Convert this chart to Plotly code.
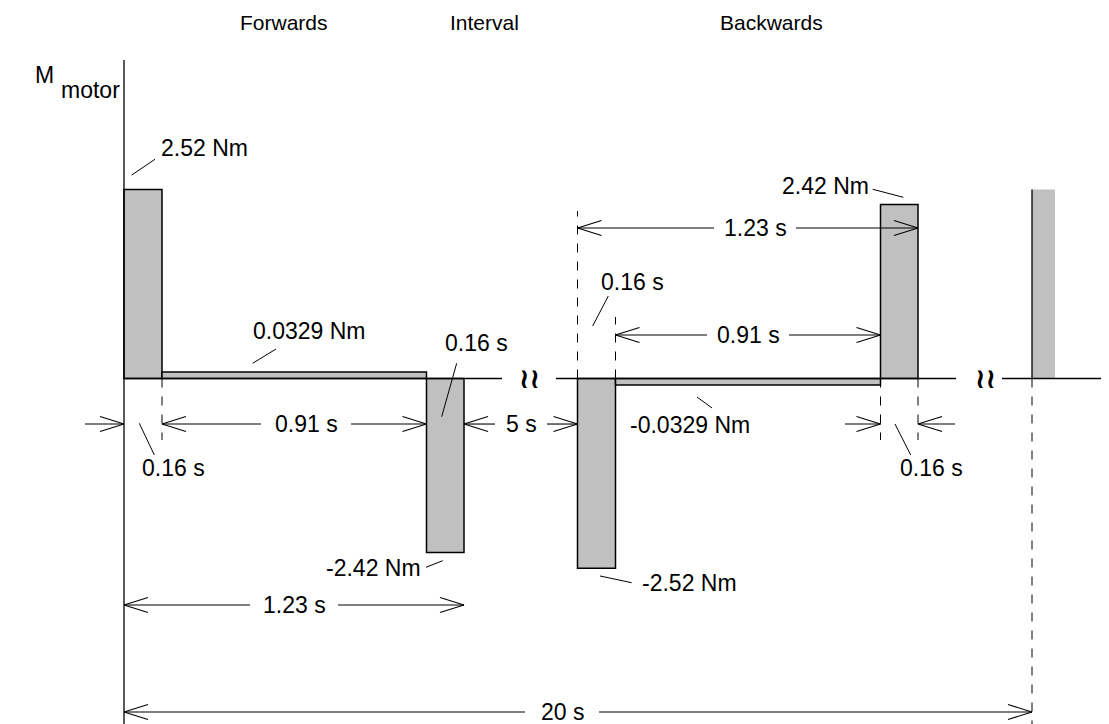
import plotly.graph_objects as go

# drawing units: x is the schematic time axis (not to scale), y is torque in Nm
phase_names = ["Forwards", "Interval", "Backwards"]

seg_start = [0, 38, 302.5, 453.5, 491.5, 756.5, 908]
seg_end = [38, 302.5, 340, 491.5, 756.5, 794, 931]
seg_height = [2.52, 0.087, -2.32, -2.53, -0.087, 2.32, 2.52]
seg_outlined = [True, True, True, True, True, True, False]

torque_labels = ["2.52 Nm", "0.0329 Nm", "-2.42 Nm", "-2.52 Nm", "-0.0329 Nm", "2.42 Nm"]
duration_labels = ["0.16 s", "0.91 s", "5 s", "1.23 s", "20 s"]

FONT = "Liberation Sans, Arial, sans-serif"
NARROW = "Liberation Sans Narrow, Arial Narrow, Liberation Sans, sans-serif"
BLACK = "#000000"
GREY = "#c0c0c0"
# the page has an 8 px body margin, so the figure is 8 px smaller and shifted
W, H = 1101, 716
X_LEFT = -116
X_RIGHT = X_LEFT + W
Y_TOP = (378.5 - 8) / 75
Y_BOTTOM = Y_TOP - H / 75
HEAD_LEN, HEAD_HALF = 24, 0.1

fig = go.Figure()

# torque blocks
for outlined in (True, False):
    idx = [i for i, o in enumerate(seg_outlined) if o == outlined]
    fig.add_bar(
        x=[(seg_start[i] + seg_end[i]) / 2 for i in idx],
        y=[seg_height[i] for i in idx],
        width=[seg_end[i] - seg_start[i] for i in idx],
        base=0,
        marker=dict(color=GREY, line=dict(color=BLACK, width=1.5 if outlined else 0)),
        hoverinfo="skip",
    )


def add_lines(segments, width=1.3, dash="solid"):
    xs, ys = [], []
    for x0, y0, x1, y1 in segments:
        xs += [x0, x1, None]
        ys += [y0, y1, None]
    fig.add_scatter(
        x=xs, y=ys, mode="lines", line=dict(color=BLACK, width=width, dash=dash),
        hoverinfo="skip",
    )


def head(x, y, direction):
    # open arrowhead, tip at (x, y), pointing +1 right / -1 left
    back = x - direction * HEAD_LEN
    return [(back, y + HEAD_HALF, x, y), (x, y, back, y - HEAD_HALF)]


# axes with breaks
add_lines(
    [
        (0, 4.247, 0, Y_BOTTOM),
        (0, 0, 378, 0),
        (432, 0, 832, 0),
        (878, 0, X_RIGHT, 0),
        (seg_start[6], 0, seg_start[6], seg_height[6]),
    ],
    width=1.3,
)

# dashed extension lines
add_lines(
    [
        (seg_end[0], 0, seg_end[0], -0.82),
        (seg_start[3], 0, seg_start[3], 2.233),
        (seg_start[4], 0, seg_start[4], 0.82),
        (seg_start[5], 0, seg_start[5], -0.82),
        (seg_end[5], 0, seg_end[5], -0.82),
        (seg_start[6], 0, seg_start[6], Y_BOTTOM),
    ],
    width=1,
    dash="dash",
)

# dimension lines: (x0, x1, y, label, label centre, half gap)
dims = [
    (seg_end[0], seg_start[2], -0.607, duration_labels[1], 182, 45),
    (seg_end[2], seg_start[3], -0.607, duration_labels[2], 397, 26),
    (seg_start[4], seg_end[4], 0.58, duration_labels[1], 624, 41),
    (seg_start[3], seg_end[5], 2.007, duration_labels[3], 631, 41),
    (seg_start[0], seg_end[2], -3.02, duration_labels[3], 170, 44),
    (seg_start[0], seg_start[6], -4.447, duration_labels[4], 438, 37),
]
dim_segments = []
for x0, x1, y, text, cx, gap in dims:
    dim_segments += [(x0, y, cx - gap, y), (cx + gap, y, x1, y)]
    dim_segments += head(x0, y, -1) + head(x1, y, 1)
    fig.add_annotation(x=cx, y=y, text=text)

# outside arrows for the short 0.16 s spans
dim_segments += [(-39, -0.607, 0, -0.607)] + head(0, -0.607, 1)
dim_segments += [(721, -0.607, seg_start[5], -0.607)] + head(seg_start[5], -0.607, 1)
dim_segments += [(831, -0.607, seg_end[5], -0.607)] + head(seg_end[5], -0.607, -1)
add_lines(dim_segments, width=1.1)

# callouts: text, label x, label y, anchor, leader line
callouts = [
    (torque_labels[0], 80.5, 3.077, "center", (7.7, 2.713, 31, 2.923)),
    (torque_labels[1], 185, 0.637, "center", (128.7, 0.203, 152, 0.393)),
    (duration_labels[0], 352, 0.469, "center", (317.7, -0.509, 332.7, 0.203)),
    (duration_labels[0], 49, -1.197, "center", (15.3, -0.597, 30.3, -1.02)),
    (torque_labels[2], 298.7, -2.531, "right", (302, -2.517, 318.7, -2.429)),
    (torque_labels[3], 516, -2.731, "left", (476, -2.633, 507.7, -2.723)),
    (torque_labels[5], 747, 2.567, "right", (748.7, 2.523, 779.3, 2.416)),
    (duration_labels[0], 508, 1.291, "center", (468.7, 0.70, 484.3, 1.10)),
    (duration_labels[0], 807, -1.197, "center", (771, -0.607, 786.7, -1.02)),
    (torque_labels[4], 566, -0.62, "center", (573, -0.247, 588, -0.393)),
]
add_lines([c[4] for c in callouts], width=1)
for text, x, y, anchor, _ in callouts:
    fig.add_annotation(x=x, y=y, text=text, xanchor=anchor)

# headings and axis names
for name, x in zip(phase_names, [160, 360, 647]):
    fig.add_annotation(
        x=x, y=4.753, text=name, font=dict(size=21, family=NARROW),
    )
fig.add_annotation(x=-80, y=4.047, text="M")
fig.add_annotation(x=-34, y=3.847, text="motor")
fig.add_annotation(x=983, y=-0.46, text="t", xanchor="left")
for x in (405, 861):
    fig.add_annotation(
        x=x, y=0, text="<b>≀≀</b>", font=dict(size=28, family="DejaVu Sans"),
    )

fig.update_annotations(showarrow=False, xref="x", yref="y", font_color=BLACK)
for a in fig.layout.annotations:
    if a.font.family is None:
        a.font.family = FONT
    if a.font.size is None:
        a.font.size = 23

fig.update_layout(
    width=W,
    height=H,
    margin=dict(l=0, r=0, t=0, b=0),
    paper_bgcolor="white",
    plot_bgcolor="white",
    showlegend=False,
    barmode="overlay",
    xaxis=dict(range=[X_LEFT, X_RIGHT], visible=False),
    yaxis=dict(range=[Y_BOTTOM, Y_TOP], visible=False),
)
fig.write_html("out.html")
